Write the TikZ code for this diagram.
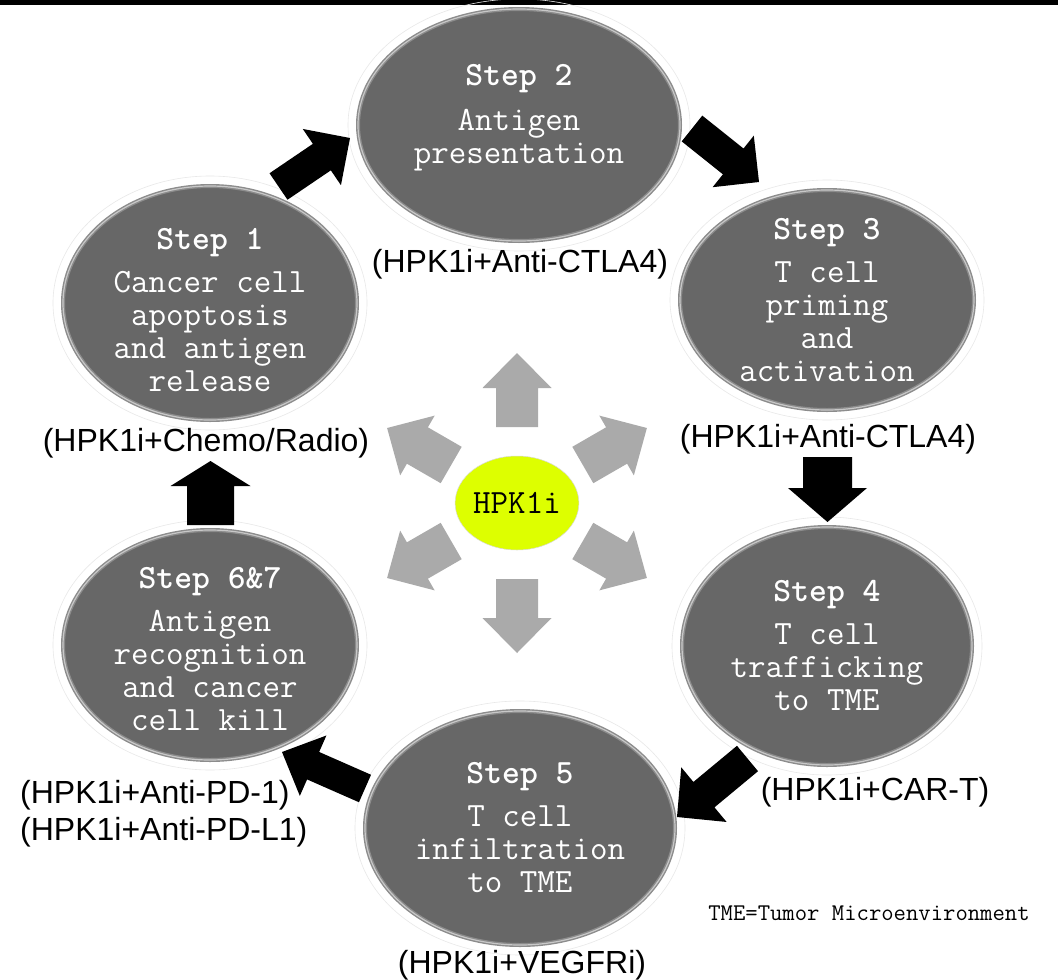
\documentclass[tikz,border=0pt]{standalone}
\usepackage{fontspec}
\usetikzlibrary{shapes.geometric,calc}
\newfontfamily\arialfont{Liberation Sans}
\newfontfamily\stepfont{lmmonolt10-bold.otf}
\definecolor{ellfill}{HTML}{676767}
\definecolor{ellborder}{HTML}{8C8C8C}
\definecolor{ellborderin}{HTML}{C8C8C8}
\definecolor{grayarrow}{HTML}{AAAAAA}
\definecolor{hpk}{HTML}{DDFF00}
\newcommand\blkarrow[6]{%
  \coordinate (ba-b) at ($(#3)!#6!(#2)$);
  \fill[#1] ($(#2)!#4!90:(#3)$) -- ($(ba-b)!#4!90:(#3)$) -- ($(ba-b)!#5!90:(#3)$) -- (#3)
    -- ($(ba-b)!#5!-90:(#3)$) -- ($(ba-b)!#4!-90:(#3)$) -- ($(#2)!#4!-90:(#3)$) -- cycle;
}
\newcommand\stepline[1]{{\stepfont #1}}
\tikzset{
  stepell/.style={ellipse, fill=ellfill, draw=ellborder, line width=1.4pt,
    double=ellborderin, double distance=1.2pt, inner sep=0pt},
  halo/.style={ellipse, draw=black!9, line width=0.6pt, inner sep=0pt},
  steptext/.style={text=white, align=center, inner sep=0pt,
    font=\ttfamily\fontsize{34}{33}\selectfont},
  lbl/.style={font=\arialfont\fontsize{32}{37}\selectfont, inner sep=0pt, anchor=base},
}
\begin{document}
\begin{tikzpicture}[x=1pt,y=-1pt]
\fill[white] (0,0) rectangle (1058,980);
\useasboundingbox (0,0) rectangle (1058,980);
\fill[black] (0,0) rectangle (1058,4.5);

% halos
\node[halo, minimum width=314pt, minimum height=254pt] (h1) at (210,303) {};
\node[halo, minimum width=342pt, minimum height=252pt] (h2) at (519,125) {};
\node[halo, minimum width=314pt, minimum height=240pt] (h3) at (827,300) {};
\node[halo, minimum width=310pt, minimum height=258pt] (h4) at (827,646) {};
\node[halo, minimum width=330pt, minimum height=254pt] (h5) at (520,828) {};
\node[halo, minimum width=314pt, minimum height=250pt] (h6) at (210,645) {};

% step ellipses
\node[stepell, minimum width=294pt, minimum height=234pt] (s1) at (210,303) {};
\node[stepell, minimum width=322pt, minimum height=232pt] (s2) at (519,125) {};
\node[stepell, minimum width=294pt, minimum height=220pt] (s3) at (827,300) {};
\node[stepell, minimum width=290pt, minimum height=238pt] (s4) at (827,646) {};
\node[stepell, minimum width=310pt, minimum height=234pt] (s5) at (520,828) {};
\node[stepell, minimum width=294pt, minimum height=230pt] (s6) at (210,645) {};

\node[steptext] (s1t) at ($(s1.center)+(0,7)$) {\stepline{Step 1}\\[10pt]Cancer cell\\apoptosis\\and antigen\\release};
\node[steptext] (s2t) at ($(s2.center)+(0,-7)$) {\stepline{Step 2}\\[12pt]Antigen\\presentation};
\node[steptext] (s3t) at (s3.center) {\stepline{Step 3}\\[10pt]T cell\\priming\\and\\activation};
\node[steptext] (s4t) at (s4.center) {\stepline{Step 4}\\[10pt]T cell\\trafficking\\to TME};
\node[steptext] (s5t) at (s5.center) {\stepline{Step 5}\\[10pt]T cell\\infiltration\\to TME};
\node[steptext] (s6t) at ($(s6.center)+(0,4)$) {\stepline{Step 6\&7}\\[10pt]Antigen\\recognition\\and cancer\\cell kill};

% labels
\node[lbl] (l1) at (206,451) {(HPK1i+Chemo/Radio)};
\node[lbl] (l2) at (520,272) {(HPK1i+Anti-CTLA4)};
\node[lbl] (l3) at (828,447) {(HPK1i+Anti-CTLA4)};
\node[lbl] (l4) at (875,800) {(HPK1i+CAR-T)};
\node[lbl] (l5) at (522,973) {(HPK1i+VEGFRi)};
\node[lbl, align=left, anchor=north west] (l6) at (20,780) {(HPK1i+Anti-PD-1)\\(HPK1i+Anti-PD-L1)};
\node[font=\ttfamily\fontsize{24}{26}\selectfont, inner sep=0pt, anchor=base] (tme) at (869,920) {TME=Tumor Microenvironment};

% black cycle arrows
\coordinate (a12t) at (278.5,186.5); \coordinate (a12h) at (350,138);
\coordinate (a23t) at (692,128.5);   \coordinate (a23h) at (759,182);
\coordinate (a34t) at (827.5,457);   \coordinate (a34h) at (827.5,522);
\coordinate (a45t) at (747.5,758.5); \coordinate (a45h) at (677,817);
\coordinate (a56t) at (365,788.5);   \coordinate (a56h) at (282,752);
\coordinate (a61t) at (210.5,525);   \coordinate (a61h) at (210.5,461);
\blkarrow{black}{a12t}{a12h}{16pt}{34pt}{34pt}
\blkarrow{black}{a23t}{a23h}{16.5pt}{33pt}{33pt}
\blkarrow{black}{a34t}{a34h}{24.5pt}{39.5pt}{34pt}
\blkarrow{black}{a45t}{a45h}{16.5pt}{35.5pt}{35pt}
\blkarrow{black}{a56t}{a56h}{15pt}{33pt}{34pt}
\blkarrow{black}{a61t}{a61h}{23.5pt}{40pt}{25pt}

% hub
\node[ellipse, fill=hpk, draw=black!15, line width=0.5pt, minimum width=104pt, minimum height=94pt,
  inner sep=0pt, font=\ttfamily\fontsize{34}{34}\selectfont] (hub) at (517,503) {HPK1i};
\foreach \a [count=\i] in {90,30,-30,-90,-150,150} {
  \coordinate (gt\i) at ($(hub.center)+(\a:76pt)$);
  \coordinate (gh\i) at ($(hub.center)+(\a:150pt)$);
  \blkarrow{grayarrow}{gt\i}{gh\i}{21pt}{34.5pt}{35pt}
}
\end{tikzpicture}
\end{document}
